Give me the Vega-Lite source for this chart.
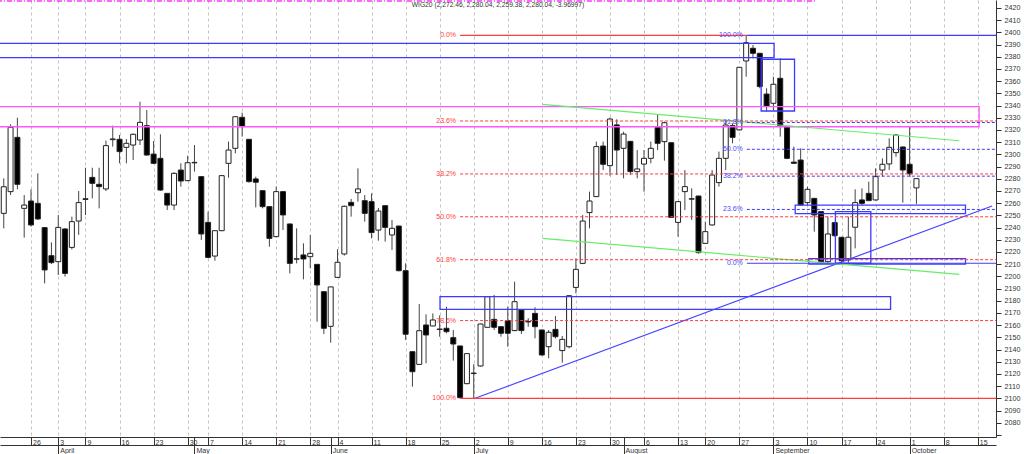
{
  "$schema": "https://vega.github.io/schema/vega-lite/v6.json",
  "description": "WIG20 daily candles with Fibonacci retracements and drawn zones",
  "width": 996,
  "height": 437,
  "autosize": {"type": "none"},
  "padding": {"left": 0, "top": 0, "right": 28, "bottom": 17},
  "background": "white",
  "config": {"view": {"stroke": null}, "font": "Liberation Sans"},
  "datasets": {
    "candles": [
      {"t": 1, "o": 2251.6, "h": 2280.3, "l": 2239.3, "c": 2273.4},
      {"t": 2, "o": 2269.4, "h": 2324.6, "l": 2266.6, "c": 2322.1},
      {"t": 3, "o": 2313.9, "h": 2330.0, "l": 2271.3, "c": 2275.4},
      {"t": 4, "o": 2255.7, "h": 2266.6, "l": 2231.7, "c": 2258.4},
      {"t": 5, "o": 2261.7, "h": 2271.3, "l": 2240.7, "c": 2242.1},
      {"t": 6, "o": 2259.8, "h": 2284.4, "l": 2246.2, "c": 2247.0},
      {"t": 7, "o": 2239.9, "h": 2240.5, "l": 2194.2, "c": 2205.2},
      {"t": 8, "o": 2216.9, "h": 2227.8, "l": 2210.0, "c": 2211.2},
      {"t": 9, "o": 2212.0, "h": 2250.2, "l": 2201.1, "c": 2240.1},
      {"t": 10, "o": 2238.8, "h": 2239.5, "l": 2199.7, "c": 2202.4},
      {"t": 11, "o": 2223.7, "h": 2248.9, "l": 2222.0, "c": 2244.8},
      {"t": 12, "o": 2245.3, "h": 2269.9, "l": 2233.9, "c": 2260.4},
      {"t": 13, "o": 2263.0, "h": 2289.0, "l": 2250.2, "c": 2263.6},
      {"t": 14, "o": 2281.1, "h": 2289.0, "l": 2263.9, "c": 2276.2},
      {"t": 15, "o": 2275.4, "h": 2289.0, "l": 2255.7, "c": 2273.5},
      {"t": 16, "o": 2271.6, "h": 2311.2, "l": 2269.9, "c": 2307.1},
      {"t": 17, "o": 2312.0, "h": 2323.5, "l": 2306.3, "c": 2312.6},
      {"t": 18, "o": 2312.3, "h": 2315.8, "l": 2292.6, "c": 2302.2},
      {"t": 19, "o": 2305.7, "h": 2312.5, "l": 2292.6, "c": 2309.0},
      {"t": 20, "o": 2307.6, "h": 2317.0, "l": 2295.3, "c": 2316.4},
      {"t": 21, "o": 2311.7, "h": 2343.1, "l": 2307.6, "c": 2326.2},
      {"t": 22, "o": 2323.5, "h": 2336.3, "l": 2299.0, "c": 2299.4},
      {"t": 23, "o": 2300.2, "h": 2310.9, "l": 2292.0, "c": 2292.6},
      {"t": 24, "o": 2296.7, "h": 2316.4, "l": 2270.0, "c": 2270.7},
      {"t": 25, "o": 2268.0, "h": 2268.0, "l": 2254.3, "c": 2258.4},
      {"t": 26, "o": 2258.4, "h": 2285.2, "l": 2254.3, "c": 2284.4},
      {"t": 27, "o": 2287.1, "h": 2292.6, "l": 2273.5, "c": 2278.1},
      {"t": 28, "o": 2278.4, "h": 2298.9, "l": 2278.0, "c": 2293.1},
      {"t": 29, "o": 2293.0, "h": 2307.6, "l": 2285.8, "c": 2293.4},
      {"t": 30, "o": 2281.7, "h": 2282.0, "l": 2229.8, "c": 2234.7},
      {"t": 31, "o": 2244.2, "h": 2253.0, "l": 2214.7, "c": 2215.5},
      {"t": 32, "o": 2216.6, "h": 2237.5, "l": 2212.8, "c": 2237.4},
      {"t": 33, "o": 2237.4, "h": 2283.0, "l": 2237.0, "c": 2282.5},
      {"t": 34, "o": 2292.6, "h": 2310.4, "l": 2280.8, "c": 2303.5},
      {"t": 35, "o": 2304.9, "h": 2331.0, "l": 2300.8, "c": 2330.8},
      {"t": 36, "o": 2330.3, "h": 2334.1, "l": 2314.5, "c": 2322.7},
      {"t": 37, "o": 2312.3, "h": 2312.5, "l": 2276.8, "c": 2277.6},
      {"t": 38, "o": 2279.8, "h": 2281.7, "l": 2256.5, "c": 2277.1},
      {"t": 39, "o": 2270.2, "h": 2270.5, "l": 2255.7, "c": 2257.1},
      {"t": 40, "o": 2257.1, "h": 2257.5, "l": 2224.3, "c": 2231.1},
      {"t": 41, "o": 2232.5, "h": 2273.5, "l": 2232.0, "c": 2269.4},
      {"t": 42, "o": 2269.4, "h": 2270.0, "l": 2238.0, "c": 2250.3},
      {"t": 43, "o": 2242.9, "h": 2243.0, "l": 2202.4, "c": 2210.6},
      {"t": 44, "o": 2214.0, "h": 2239.3, "l": 2210.6, "c": 2214.4},
      {"t": 45, "o": 2217.5, "h": 2227.0, "l": 2197.5, "c": 2214.2},
      {"t": 46, "o": 2216.1, "h": 2233.9, "l": 2206.5, "c": 2218.8},
      {"t": 47, "o": 2209.8, "h": 2210.0, "l": 2162.8, "c": 2192.9},
      {"t": 48, "o": 2187.4, "h": 2187.5, "l": 2152.7, "c": 2157.4},
      {"t": 49, "o": 2159.0, "h": 2191.5, "l": 2145.6, "c": 2191.3},
      {"t": 50, "o": 2199.1, "h": 2222.1, "l": 2199.0, "c": 2211.5},
      {"t": 51, "o": 2218.3, "h": 2258.0, "l": 2217.0, "c": 2257.4},
      {"t": 52, "o": 2260.6, "h": 2263.4, "l": 2248.9, "c": 2257.9},
      {"t": 53, "o": 2268.5, "h": 2288.5, "l": 2261.2, "c": 2271.6},
      {"t": 54, "o": 2262.0, "h": 2266.6, "l": 2244.8, "c": 2251.6},
      {"t": 55, "o": 2261.2, "h": 2268.0, "l": 2231.1, "c": 2235.8},
      {"t": 56, "o": 2237.9, "h": 2256.0, "l": 2229.2, "c": 2253.5},
      {"t": 57, "o": 2257.9, "h": 2258.0, "l": 2228.4, "c": 2240.1},
      {"t": 58, "o": 2233.9, "h": 2246.1, "l": 2221.6, "c": 2239.3},
      {"t": 59, "o": 2241.2, "h": 2241.5, "l": 2204.0, "c": 2204.6},
      {"t": 60, "o": 2204.6, "h": 2210.6, "l": 2147.8, "c": 2152.5},
      {"t": 61, "o": 2138.2, "h": 2138.5, "l": 2109.5, "c": 2121.8},
      {"t": 62, "o": 2127.8, "h": 2177.3, "l": 2127.5, "c": 2155.4},
      {"t": 63, "o": 2160.1, "h": 2168.8, "l": 2128.7, "c": 2151.9},
      {"t": 64, "o": 2159.3, "h": 2169.6, "l": 2159.0, "c": 2164.2},
      {"t": 65, "o": 2156.8, "h": 2168.0, "l": 2150.5, "c": 2156.4},
      {"t": 66, "o": 2157.4, "h": 2175.1, "l": 2153.3, "c": 2154.6},
      {"t": 67, "o": 2149.7, "h": 2156.0, "l": 2130.9, "c": 2144.5},
      {"t": 68, "o": 2142.9, "h": 2143.0, "l": 2100.0, "c": 2100.5},
      {"t": 69, "o": 2112.0, "h": 2136.9, "l": 2111.5, "c": 2136.6},
      {"t": 70, "o": 2120.3, "h": 2128.0, "l": 2100.0, "c": 2120.7},
      {"t": 71, "o": 2126.5, "h": 2161.2, "l": 2126.0, "c": 2160.9},
      {"t": 72, "o": 2158.2, "h": 2183.8, "l": 2158.0, "c": 2183.3},
      {"t": 73, "o": 2164.7, "h": 2184.7, "l": 2156.0, "c": 2158.2},
      {"t": 74, "o": 2158.7, "h": 2159.0, "l": 2150.5, "c": 2153.3},
      {"t": 75, "o": 2163.6, "h": 2175.1, "l": 2142.3, "c": 2153.3},
      {"t": 76, "o": 2155.5, "h": 2195.6, "l": 2155.0, "c": 2179.2},
      {"t": 77, "o": 2172.4, "h": 2172.5, "l": 2152.7, "c": 2155.5},
      {"t": 78, "o": 2162.6, "h": 2165.6, "l": 2158.7, "c": 2163.0},
      {"t": 79, "o": 2169.6, "h": 2174.6, "l": 2149.2, "c": 2158.7},
      {"t": 80, "o": 2156.0, "h": 2156.2, "l": 2135.0, "c": 2135.5},
      {"t": 81, "o": 2142.3, "h": 2156.0, "l": 2132.8, "c": 2154.1},
      {"t": 82, "o": 2156.5, "h": 2167.4, "l": 2149.0, "c": 2150.5},
      {"t": 83, "o": 2139.1, "h": 2151.1, "l": 2129.2, "c": 2148.3},
      {"t": 84, "o": 2142.3, "h": 2184.3, "l": 2141.0, "c": 2184.1},
      {"t": 85, "o": 2190.9, "h": 2214.7, "l": 2186.0, "c": 2205.7},
      {"t": 86, "o": 2210.6, "h": 2250.3, "l": 2210.0, "c": 2245.3},
      {"t": 87, "o": 2252.2, "h": 2269.4, "l": 2239.3, "c": 2261.7},
      {"t": 88, "o": 2265.3, "h": 2310.4, "l": 2265.0, "c": 2306.3},
      {"t": 89, "o": 2306.8, "h": 2310.4, "l": 2287.1, "c": 2291.8},
      {"t": 90, "o": 2290.7, "h": 2330.0, "l": 2282.5, "c": 2328.9},
      {"t": 91, "o": 2324.1, "h": 2328.7, "l": 2283.0, "c": 2303.5},
      {"t": 92, "o": 2304.9, "h": 2318.5, "l": 2280.3, "c": 2316.6},
      {"t": 93, "o": 2310.6, "h": 2311.0, "l": 2283.0, "c": 2285.8},
      {"t": 94, "o": 2285.8, "h": 2303.5, "l": 2280.3, "c": 2288.0},
      {"t": 95, "o": 2292.0, "h": 2303.5, "l": 2269.4, "c": 2296.7},
      {"t": 96, "o": 2296.7, "h": 2310.4, "l": 2292.6, "c": 2304.9},
      {"t": 97, "o": 2322.1, "h": 2332.2, "l": 2303.5, "c": 2309.0},
      {"t": 98, "o": 2310.4, "h": 2326.8, "l": 2294.8, "c": 2325.9},
      {"t": 99, "o": 2309.5, "h": 2310.0, "l": 2248.0, "c": 2248.3},
      {"t": 100, "o": 2244.2, "h": 2261.5, "l": 2232.5, "c": 2261.2},
      {"t": 101, "o": 2269.4, "h": 2287.1, "l": 2254.3, "c": 2273.5},
      {"t": 102, "o": 2263.2, "h": 2272.1, "l": 2246.2, "c": 2263.6},
      {"t": 103, "o": 2265.8, "h": 2266.0, "l": 2218.5, "c": 2219.4},
      {"t": 104, "o": 2227.0, "h": 2244.8, "l": 2226.5, "c": 2236.6},
      {"t": 105, "o": 2242.1, "h": 2287.1, "l": 2241.5, "c": 2283.0},
      {"t": 106, "o": 2276.8, "h": 2302.2, "l": 2273.5, "c": 2296.7},
      {"t": 107, "o": 2296.7, "h": 2328.1, "l": 2287.1, "c": 2324.0},
      {"t": 108, "o": 2323.5, "h": 2325.4, "l": 2309.0, "c": 2313.9},
      {"t": 109, "o": 2320.0, "h": 2371.5, "l": 2319.5, "c": 2371.3},
      {"t": 110, "o": 2376.5, "h": 2397.5, "l": 2363.6, "c": 2391.5},
      {"t": 111, "o": 2386.9, "h": 2389.6, "l": 2378.7, "c": 2382.8},
      {"t": 112, "o": 2382.8, "h": 2383.0, "l": 2354.1, "c": 2355.5},
      {"t": 113, "o": 2349.4, "h": 2354.1, "l": 2335.0, "c": 2339.6},
      {"t": 114, "o": 2341.8, "h": 2363.6, "l": 2336.3, "c": 2357.4},
      {"t": 115, "o": 2362.3, "h": 2378.7, "l": 2314.5, "c": 2323.2},
      {"t": 116, "o": 2322.7, "h": 2323.0, "l": 2296.0, "c": 2296.7},
      {"t": 117, "o": 2293.6, "h": 2306.3, "l": 2292.4, "c": 2292.6},
      {"t": 118, "o": 2295.3, "h": 2304.9, "l": 2258.0, "c": 2258.5},
      {"t": 119, "o": 2260.4, "h": 2273.5, "l": 2258.5, "c": 2271.3},
      {"t": 120, "o": 2263.9, "h": 2264.0, "l": 2236.6, "c": 2250.3},
      {"t": 121, "o": 2253.0, "h": 2253.2, "l": 2211.2, "c": 2212.0},
      {"t": 122, "o": 2212.0, "h": 2248.9, "l": 2211.0, "c": 2234.7},
      {"t": 123, "o": 2244.0, "h": 2244.2, "l": 2232.5, "c": 2233.3},
      {"t": 124, "o": 2232.0, "h": 2232.2, "l": 2211.0, "c": 2212.8},
      {"t": 125, "o": 2213.4, "h": 2248.9, "l": 2211.0, "c": 2232.0},
      {"t": 126, "o": 2240.2, "h": 2271.3, "l": 2222.9, "c": 2260.4},
      {"t": 127, "o": 2262.6, "h": 2272.1, "l": 2258.5, "c": 2259.8},
      {"t": 128, "o": 2268.0, "h": 2277.6, "l": 2262.0, "c": 2262.0},
      {"t": 129, "o": 2262.6, "h": 2288.5, "l": 2262.0, "c": 2281.7},
      {"t": 130, "o": 2287.1, "h": 2296.7, "l": 2281.7, "c": 2291.8},
      {"t": 131, "o": 2292.1, "h": 2313.1, "l": 2287.1, "c": 2305.7},
      {"t": 132, "o": 2301.4, "h": 2316.6, "l": 2298.0, "c": 2315.8},
      {"t": 133, "o": 2306.0, "h": 2306.3, "l": 2260.4, "c": 2287.1},
      {"t": 134, "o": 2291.8, "h": 2322.7, "l": 2281.7, "c": 2284.0},
      {"t": 135, "o": 2272.46, "h": 2280.04, "l": 2259.38, "c": 2280.04}
    ],
    "fib": [
      {"kind": "fibA", "r": "0.0%", "p": 2397.5, "t1": 68, "t2": 110.1},
      {"kind": "fibA", "r": "23.6%", "p": 2327.3, "t1": 68, "t2": 146.7},
      {"kind": "fibA", "r": "38.2%", "p": 2283.9, "t1": 68, "t2": 146.7},
      {"kind": "fibA", "r": "50.0%", "p": 2248.8, "t1": 68, "t2": 146.7},
      {"kind": "fibA", "r": "61.8%", "p": 2213.6, "t1": 68, "t2": 146.7},
      {"kind": "fibA", "r": "78.6%", "p": 2163.7, "t1": 68, "t2": 146.7},
      {"kind": "fibA", "r": "100.0%", "p": 2100.0, "t1": 68, "t2": 146.7},
      {"kind": "fibB", "r": "100.0%", "p": 2397.5, "t1": 110.1, "t2": 146.7},
      {"kind": "fibB", "r": "61.8%", "p": 2326.1, "t1": 110.1, "t2": 146.7},
      {"kind": "fibB", "r": "50.0%", "p": 2304.1, "t1": 110.1, "t2": 146.7},
      {"kind": "fibB", "r": "38.2%", "p": 2282.1, "t1": 110.1, "t2": 146.7},
      {"kind": "fibB", "r": "23.6%", "p": 2254.8, "t1": 110.1, "t2": 146.7},
      {"kind": "fibB", "r": "0.0%", "p": 2210.7, "t1": 110.1, "t2": 146.7}
    ],
    "boxes": [
      {"kind": "box", "t1": -5, "t2": 114.1, "p1": 2391.0, "p2": 2379.3},
      {"kind": "box", "t1": 112.2, "t2": 117.1, "p1": 2377.9, "p2": 2335.5},
      {"kind": "zone", "t1": -5, "t2": 144.2, "p1": 2339.0, "p2": 2322.6},
      {"kind": "box", "t1": 117.2, "t2": 142.2, "p1": 2258.4, "p2": 2251.4},
      {"kind": "box", "t1": 123.1, "t2": 128.3, "p1": 2253.0, "p2": 2210.7},
      {"kind": "box", "t1": 119.2, "t2": 142.2, "p1": 2214.5, "p2": 2210.0},
      {"kind": "box", "t1": 65.05, "t2": 131.2, "p1": 2183.3, "p2": 2172.9}
    ],
    "lines": [
      {"kind": "trend", "t1": 70.2, "p1": 2100.0, "t2": 146.1, "p2": 2257.6},
      {"kind": "channel", "t1": 80.1, "p1": 2341.0, "t2": 141.3, "p2": 2311.1},
      {"kind": "channel", "t1": 80.1, "p1": 2231.1, "t2": 141.3, "p2": 2201.6},
      {"kind": "marker", "t1": 0, "p1": 2425.6, "t2": 120.1, "p2": 2425.6}
    ],
    "header": [
      {"label": "WIG20 (2,272.46, 2,280.04, 2,259.38, 2,280.04, -3.96997)", "t": 60.9, "p": 2422.2}
    ]
  },
  "layer": [
    {
      "data": {"name": "candles"},
      "mark": {"type": "rule", "color": "#444444", "strokeWidth": 1},
      "encoding": {
        "x": {
          "field": "t",
          "type": "quantitative",
          "scale": {"domain": [0.448, 146.68], "nice": false, "zero": false, "padding": 0},
          "axis": {
            "orient": "bottom",
            "title": null,
            "values": [0, 5, 9, 13, 18, 23, 28, 29, 31, 36, 41, 46, 49, 50, 55, 60, 65, 70, 75, 80, 85, 90, 92, 95, 100, 104, 109, 114, 119, 124, 129, 134, 139, 144],
            "labelExpr": "['19','26','3','9','16','23','30','','7','14','21','28','','4','11','18','25','2','9','16','23','30','','6','13','20','27','3','10','17','24','1','8','15'][indexof([0,5,9,13,18,23,28,29,31,36,41,46,49,50,55,60,65,70,75,80,85,90,92,95,100,104,109,114,119,124,129,134,139,144], datum.value)]",
            "grid": true,
            "gridDash": [3, 3],
            "gridColor": "#c4c4c4",
            "gridOpacity": {"condition": {"test": "datum.value == 29 || datum.value == 49 || datum.value == 92", "value": 0}, "value": 1},
            "domainColor": "#333333",
            "tickColor": "#333333",
            "tickSize": 8,
            "labelAlign": "left",
            "labelBaseline": "top",
            "labelPadding": -7,
            "labelOffset": 1.5,
            "labelFontSize": 7,
            "labelColor": "#333333",
            "labelOverlap": false,
            "labelFlush": false,
            "labelBound": false
          }
        },
        "y": {
          "field": "l",
          "type": "quantitative",
          "scale": {"domain": [2068.28, 2426.48], "nice": false, "zero": false, "padding": 0},
          "axis": null
        },
        "y2": {"field": "h"}
      }
    },
    {
      "data": {"name": "candles"},
      "mark": {"type": "bar", "orient": "vertical", "size": 5, "stroke": "#222222", "strokeWidth": 1},
      "encoding": {
        "x": {
          "field": "t",
          "type": "quantitative",
          "scale": {"domain": [0.448, 146.68], "nice": false, "zero": false, "padding": 0},
          "axis": {
            "orient": "bottom",
            "offset": 8,
            "title": null,
            "values": [9, 29, 49, 70, 92, 114, 134],
            "labelExpr": "['April','May','June','July','August','September','October'][indexof([9,29,49,70,92,114,134], datum.value)]",
            "grid": false,
            "domainColor": "#333333",
            "tickColor": "#333333",
            "tickSize": 9,
            "labelAlign": "left",
            "labelBaseline": "top",
            "labelPadding": -8,
            "labelOffset": 1.5,
            "labelFontSize": 7,
            "labelColor": "#333333",
            "labelOverlap": false,
            "labelFlush": false,
            "labelBound": false
          }
        },
        "y": {
          "field": "o",
          "type": "quantitative",
          "scale": {"domain": [2068.28, 2426.48], "nice": false, "zero": false, "padding": 0},
          "axis": {
            "orient": "right",
            "title": null,
            "values": [2070, 2080, 2090, 2100, 2110, 2120, 2130, 2140, 2150, 2160, 2170, 2180, 2190, 2200, 2210, 2220, 2230, 2240, 2250, 2260, 2270, 2280, 2290, 2300, 2310, 2320, 2330, 2340, 2350, 2360, 2370, 2380, 2390, 2400, 2410, 2420],
            "format": "d",
            "labelExpr": "datum.value < 2075 ? '' : datum.label",
            "grid": false,
            "domainColor": "#333333",
            "tickColor": "#333333",
            "tickSize": 5,
            "labelPadding": 3,
            "labelFontSize": 7.2,
            "labelColor": "#333333",
            "labelOverlap": false,
            "labelFlush": false,
            "labelBound": false
          }
        },
        "y2": {"field": "c"},
        "fill": {"condition": {"test": "datum.c >= datum.o", "value": "#ffffff"}, "value": "#000000"}
      }
    },
    {
      "data": {"name": "boxes"},
      "mark": {"type": "rect", "fillOpacity": 0, "strokeWidth": 1.3, "clip": true},
      "encoding": {
        "x": {"field": "t1", "type": "quantitative", "axis": null},
        "x2": {"field": "t2"},
        "y": {"field": "p1", "type": "quantitative", "axis": null},
        "y2": {"field": "p2"},
        "stroke": {
          "field": "kind",
          "type": "nominal",
          "legend": null,
          "scale": {"domain": ["fibA", "fibB", "box", "zone", "trend", "channel", "marker"], "range": ["#ff3b3b", "#3b3bff", "#3b3bff", "#ff55ff", "#4646ff", "#66ee66", "#ff33ff"]}
        }
      }
    },
    {
      "data": {"name": "lines"},
      "transform": [{"filter": "datum.kind != 'marker'"}],
      "mark": {"type": "rule", "strokeWidth": 1.2, "clip": true},
      "encoding": {
        "x": {"field": "t1", "type": "quantitative", "axis": null},
        "x2": {"field": "t2"},
        "y": {"field": "p1", "type": "quantitative", "axis": null},
        "y2": {"field": "p2"},
        "stroke": {
          "field": "kind",
          "type": "nominal",
          "legend": null,
          "scale": {"domain": ["fibA", "fibB", "box", "zone", "trend", "channel", "marker"], "range": ["#ff3b3b", "#3b3bff", "#3b3bff", "#ff55ff", "#4646ff", "#66ee66", "#ff33ff"]}
        }
      }
    },
    {
      "data": {"name": "lines"},
      "transform": [{"filter": "datum.kind == 'marker'"}],
      "mark": {"type": "rule", "strokeWidth": 1.5, "strokeDash": [5, 2, 1, 2]},
      "encoding": {
        "x": {"field": "t1", "type": "quantitative", "axis": null},
        "x2": {"field": "t2"},
        "y": {"field": "p1", "type": "quantitative", "axis": null},
        "stroke": {
          "field": "kind",
          "type": "nominal",
          "legend": null,
          "scale": {"domain": ["fibA", "fibB", "box", "zone", "trend", "channel", "marker"], "range": ["#ff3b3b", "#3b3bff", "#3b3bff", "#ff55ff", "#4646ff", "#66ee66", "#ff33ff"]}
        }
      }
    },
    {
      "data": {"name": "fib"},
      "transform": [{"filter": "datum.r == '0.0%' || datum.r == '100.0%'"}],
      "mark": {"type": "rule", "strokeWidth": 1.2},
      "encoding": {
        "x": {"field": "t1", "type": "quantitative", "axis": null},
        "x2": {"field": "t2"},
        "y": {"field": "p", "type": "quantitative", "axis": null},
        "stroke": {
          "field": "kind",
          "type": "nominal",
          "legend": null,
          "scale": {"domain": ["fibA", "fibB", "box", "zone", "trend", "channel", "marker"], "range": ["#ff3b3b", "#3b3bff", "#3b3bff", "#ff55ff", "#4646ff", "#66ee66", "#ff33ff"]}
        }
      }
    },
    {
      "data": {"name": "fib"},
      "transform": [{"filter": "datum.r != '0.0%' && datum.r != '100.0%'"}],
      "mark": {"type": "rule", "strokeWidth": 1, "strokeDash": [3, 2]},
      "encoding": {
        "x": {"field": "t1", "type": "quantitative", "axis": null},
        "x2": {"field": "t2"},
        "y": {"field": "p", "type": "quantitative", "axis": null},
        "stroke": {
          "field": "kind",
          "type": "nominal",
          "legend": null,
          "scale": {"domain": ["fibA", "fibB", "box", "zone", "trend", "channel", "marker"], "range": ["#ff3b3b", "#3b3bff", "#3b3bff", "#ff55ff", "#4646ff", "#66ee66", "#ff33ff"]}
        }
      }
    },
    {
      "data": {"name": "fib"},
      "mark": {"type": "text", "align": "right", "baseline": "middle", "dx": -4, "fontSize": 7},
      "encoding": {
        "x": {"field": "t1", "type": "quantitative", "axis": null},
        "y": {"field": "p", "type": "quantitative", "axis": null},
        "text": {"field": "r"},
        "fill": {
          "field": "kind",
          "type": "nominal",
          "legend": null,
          "scale": {"domain": ["fibA", "fibB"], "range": ["#ff4040", "#4a4aff"]}
        }
      }
    },
    {
      "data": {"name": "header"},
      "mark": {"type": "text", "align": "left", "baseline": "middle", "fontSize": 6.7, "color": "#333333"},
      "encoding": {
        "x": {"field": "t", "type": "quantitative", "axis": null},
        "y": {"field": "p", "type": "quantitative", "axis": null},
        "text": {"field": "label"}
      }
    }
  ],
  "resolve": {"axis": {"x": "independent", "y": "independent"}}
}
